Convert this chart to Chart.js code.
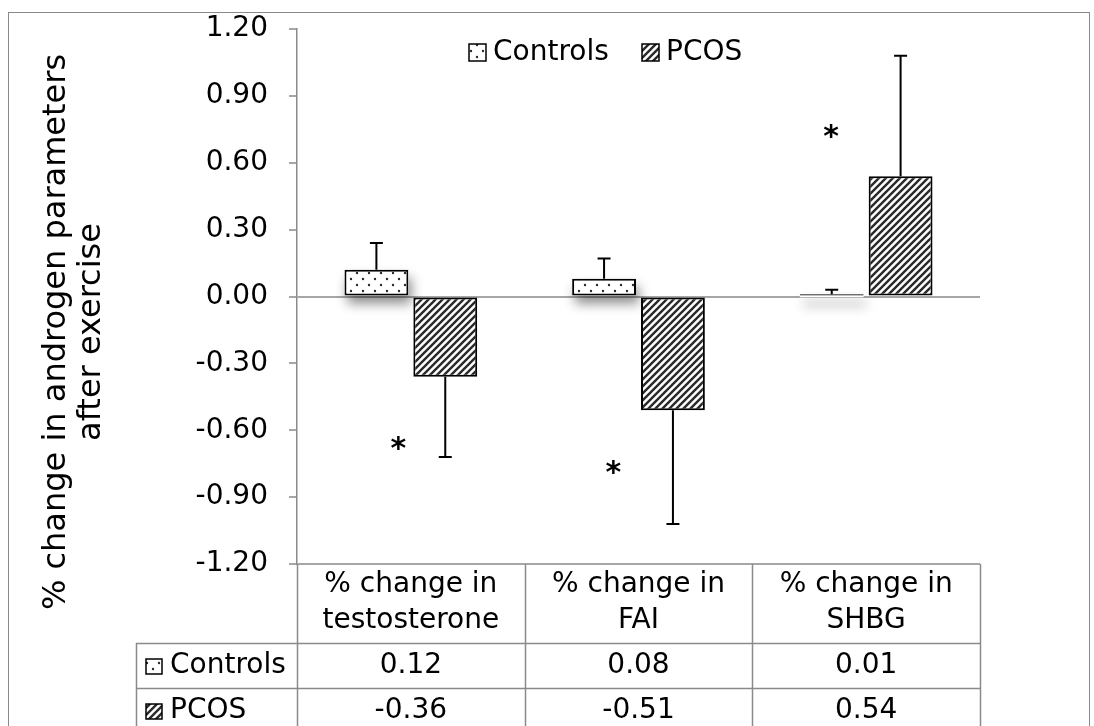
<!DOCTYPE html>
<html>
<head>
<meta charset="utf-8">
<script src="https://cdn.jsdelivr.net/npm/chart.js@4.4.0/dist/chart.umd.min.js"></script>
<style>
  html, body { margin: 0; padding: 0; background: #fff; }
</style>
</head>
<body>
<canvas id="grafico" width="1094" height="726"></canvas>
<script>
// datos
const categorias = [['% change in', 'testosterone'], ['% change in', 'FAI'], ['% change in', 'SHBG']];
const series = ['Controls', 'PCOS'];
const controles = [0.12, 0.08, 0.01];
const pcos = [-0.36, -0.51, 0.54];
const errControles = [0.12, 0.09, 0.02];
const errPcos = [0.36, 0.51, 0.54];
// asteriscos: desplazamiento dentro de la categoria y valor en el eje
const asteriscoPos = [-0.055, -0.11, -0.154];
const asteriscoValor = [-0.66, -0.77, 0.74];
const tituloY = ['% change in androgen parameters', 'after exercise'];

const FAMILIA = '"DejaVu Sans", Verdana, sans-serif';
const FUENTE = '28px ' + FAMILIA;
const GRIS = '#8a8a8a';

const canvas = document.getElementById('grafico');
const ctx = canvas.getContext('2d');

function patronPuntos() {
    const c = document.createElement('canvas');
    c.width = 12; c.height = 12;
    const g = c.getContext('2d');
    g.fillStyle = '#fff';
    g.fillRect(0, 0, 12, 12);
    g.fillStyle = '#2a2a2a';
    [[3, 3], [9, 9]].forEach(([px, py]) => {
        g.beginPath();
        g.arc(px, py, 1.2, 0, Math.PI * 2);
        g.fill();
    });
    return ctx.createPattern(c, 'repeat');
}

function patronRayas() {
    const s = 7;
    const c = document.createElement('canvas');
    c.width = s; c.height = s;
    const g = c.getContext('2d');
    g.fillStyle = '#fff';
    g.fillRect(0, 0, s, s);
    g.strokeStyle = '#2a2a2a';
    g.lineWidth = 2.4;
    g.beginPath();
    g.moveTo(-1, s + 1); g.lineTo(s + 1, -1);
    g.moveTo(-1, 1); g.lineTo(1, -1);
    g.moveTo(s - 1, s + 1); g.lineTo(s + 1, s - 1);
    g.stroke();
    return ctx.createPattern(c, 'repeat');
}

const rellenos = [patronPuntos(), patronRayas()];

// sombra suave debajo de las barras de Controls (la barra recorta su propio dibujo)
const sombra = {
    id: 'sombra',
    beforeDatasetsDraw(chart) {
        const c = chart.ctx;
        c.save();
        c.shadowColor = 'rgba(0,0,0,0.45)';
        c.shadowBlur = 12;
        c.shadowOffsetX = 3;
        c.shadowOffsetY = 8;
        c.fillStyle = '#fff';
        chart.getDatasetMeta(0).data.forEach(bar => {
            const top = Math.min(bar.y, bar.base);
            const h = Math.max(Math.abs(bar.base - bar.y), 3);
            c.fillRect(bar.x - bar.width / 2, top, bar.width, h);
        });
        c.restore();
    }
};

const barrasError = {
    id: 'barrasError',
    afterDatasetsDraw(chart) {
        const c = chart.ctx;
        const y = chart.scales.y;
        [errControles, errPcos].forEach((errs, d) => {
            const vals = chart.data.datasets[d].data;
            chart.getDatasetMeta(d).data.forEach((bar, i) => {
                const v = vals[i];
                const fin = v >= 0 ? v + errs[i] : v - errs[i];
                const y0 = y.getPixelForValue(v);
                const y1 = y.getPixelForValue(fin);
                c.save();
                c.strokeStyle = '#000';
                c.lineWidth = 2;
                c.beginPath();
                c.moveTo(bar.x, y0);
                c.lineTo(bar.x, y1);
                c.moveTo(bar.x - 6.5, y1);
                c.lineTo(bar.x + 6.5, y1);
                c.stroke();
                c.restore();
            });
        });
    }
};

const extras = {
    id: 'extras',
    afterDraw(chart) {
        const c = chart.ctx;
        const x = chart.scales.x;
        const y = chart.scales.y;
        const area = chart.chartArea;

        c.save();
        // marco exterior
        c.strokeStyle = GRIS;
        c.lineWidth = 1;
        c.strokeRect(8.5, 12.5, 1081, 740);

        // asteriscos
        c.fillStyle = '#000';
        c.font = 'bold 30px ' + FAMILIA;
        c.textAlign = 'center';
        c.textBaseline = 'alphabetic';
        const ancho = x.getPixelForValue(1) - x.getPixelForValue(0);
        asteriscoPos.forEach((p, i) => {
            const px = x.getPixelForValue(i) + p * ancho;
            const py = y.getPixelForValue(asteriscoValor[i]);
            c.fillText('*', px, py + 14);
        });

        // leyenda
        c.font = FUENTE;
        c.textAlign = 'left';
        c.textBaseline = 'middle';
        const leyX = [469, 642];
        series.forEach((nombre, i) => {
            c.fillStyle = rellenos[i];
            c.fillRect(leyX[i], 44, 17, 17);
            c.strokeStyle = '#000';
            c.lineWidth = 1.5;
            c.strokeRect(leyX[i], 44, 17, 17);
            c.fillStyle = '#000';
            c.fillText(nombre, leyX[i] + 24, 53);
        });

        // titulo del eje y
        c.save();
        c.font = '32px ' + FAMILIA;
        c.rotate(-Math.PI / 2);
        c.textAlign = 'center';
        c.fillText(tituloY[0], -332, 57);
        c.fillText(tituloY[1], -332, 92);
        c.restore();

        // tabla de datos
        const arriba = area.bottom;
        const cab = 79, fila = 45;
        const izq = 136;
        c.strokeStyle = GRIS;
        c.lineWidth = 1.5;
        c.beginPath();
        for (let i = 0; i <= categorias.length; i++) {
            const bx = Math.round(x.getPixelForValue(i) - ancho / 2) + 0.5;
            c.moveTo(bx, arriba);
            c.lineTo(bx, 760);
        }
        c.moveTo(izq + 0.5, arriba + cab);
        c.lineTo(izq + 0.5, 760);
        for (let r = 1; r <= 3; r++) {
            const ly = arriba + cab + fila * (r - 1) + 0.5;
            c.moveTo(izq, ly);
            c.lineTo(area.right, ly);
        }
        c.stroke();

        c.fillStyle = '#000';
        c.textAlign = 'center';
        c.textBaseline = 'middle';
        const filas = [controles, pcos];
        categorias.forEach((lineas, i) => {
            const cx = x.getPixelForValue(i);
            c.fillText(lineas[0], cx, arriba + 21);
            c.fillText(lineas[1], cx, arriba + 57);
            filas.forEach((vals, r) => {
                c.fillText(vals[i].toFixed(2), cx, arriba + cab + fila * r + 23);
            });
        });

        // etiquetas de filas con su muestra
        c.textAlign = 'left';
        series.forEach((nombre, r) => {
            const fy = arriba + cab + fila * r + 23;
            c.fillStyle = rellenos[r];
            c.fillRect(146, fy - 7, 16, 15);
            c.strokeStyle = '#000';
            c.lineWidth = 1.5;
            c.strokeRect(146, fy - 7, 16, 15);
            c.fillStyle = '#000';
            c.fillText(nombre, 170, fy);
        });
        c.restore();
    }
};

new Chart(ctx, {
    type: 'bar',
    data: {
        labels: categorias.map(l => l.join(' ')),
        datasets: [{
            label: series[0],
            data: controles,
            backgroundColor: rellenos[0],
            borderColor: '#000',
            borderWidth: 2,
            borderSkipped: false,
            categoryPercentage: 0.605,
            barPercentage: 0.927
        }, {
            label: series[1],
            data: pcos,
            backgroundColor: rellenos[1],
            borderColor: '#000',
            borderWidth: 2,
            borderSkipped: false,
            categoryPercentage: 0.605,
            barPercentage: 0.927
        }]
    },
    options: {
        responsive: false,
        animation: false,
        devicePixelRatio: 1,
        layout: {
            padding: { left: 0, right: 114, top: 29, bottom: 0 }
        },
        plugins: {
            legend: { display: false },
            tooltip: { enabled: false }
        },
        scales: {
            x: {
                grid: { display: false },
                border: { display: false },
                ticks: { display: false },
                afterFit: s => { s.height = 162; }
            },
            y: {
                min: -1.2,
                max: 1.2,
                ticks: {
                    stepSize: 0.3,
                    color: '#000',
                    padding: 21,
                    // lineHeight corto para que la etiqueta superior no empuje el area
                    font: { family: FAMILIA, size: 28, lineHeight: 0.5 },
                    callback: v => Number(v).toFixed(2)
                },
                grid: {
                    color: c => (Math.abs(c.tick.value) < 1e-9 || Math.abs(c.tick.value + 1.2) < 1e-9) ? '#a6a6a6' : 'rgba(0,0,0,0)',
                    lineWidth: 2,
                    tickColor: GRIS,
                    tickLength: 8,
                    tickWidth: 1.5
                },
                border: { color: GRIS, width: 1.5 },
                afterFit: s => { s.width = 297; }
            }
        }
    },
    plugins: [sombra, barrasError, extras]
});
</script>
</body>
</html>
